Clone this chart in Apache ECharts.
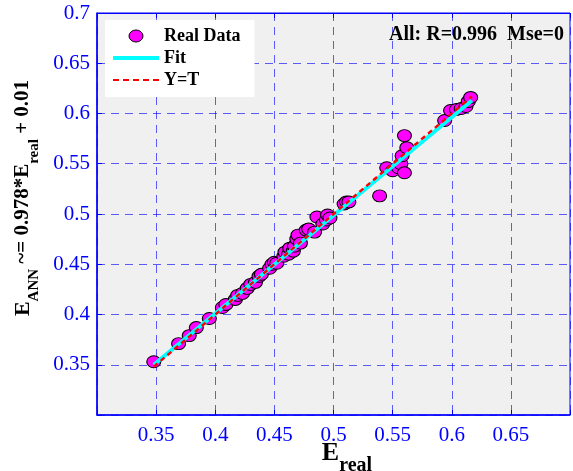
<!DOCTYPE html>
<html>
<head>
<meta charset="utf-8">
<script src="https://cdn.jsdelivr.net/npm/echarts@6/dist/echarts.min.js"></script>
<style>
html,body{margin:0;padding:0;background:#fff;}
#chart{width:573px;height:471px;}
</style>
</head>
<body>
<div id="chart"></div>
<script>
// Real data points [E_real, E_ANN]
const realData = [
  [0.348,0.353],[0.369,0.371],[0.378,0.379],[0.384,0.387],[0.395,0.396],
  [0.406,0.407],[0.409,0.410],[0.417,0.415],[0.419,0.419],[0.423,0.421],
  [0.427,0.426],[0.430,0.430],[0.434,0.432],[0.437,0.438],[0.439,0.440],
  [0.446,0.446],[0.448,0.450],[0.450,0.452],[0.452,0.451],[0.458,0.458],
  [0.459,0.462],[0.462,0.460],[0.463,0.466],[0.466,0.463],[0.467,0.468],
  [0.469,0.475],[0.470,0.479],[0.472,0.471],[0.477,0.484],[0.479,0.485],
  [0.484,0.482],[0.486,0.497],[0.491,0.490],[0.494,0.494],[0.495,0.499],
  [0.497,0.496],[0.509,0.510],[0.511,0.512],[0.513,0.512],[0.539,0.518],
  [0.545,0.546],[0.550,0.543],[0.555,0.546],[0.557,0.550],[0.560,0.541],
  [0.558,0.558],[0.562,0.566],[0.560,0.578],[0.594,0.593],[0.599,0.603],
  [0.604,0.604],[0.608,0.605],[0.612,0.607],[0.614,0.612],[0.616,0.616]
];
// Fit line endpoints (E_ANN ~= 0.978*E_real + 0.01)
const fitLine = [[0.348,0.350],[0.617,0.613]];
// Y = T line endpoints
const ytLine = [[0.348,0.348],[0.617,0.617]];
// Tick labels
const xTickLabels = ['0.35','0.4','0.45','0.5','0.55','0.6','0.65'];
const yTickLabels = ['0.35','0.4','0.45','0.5','0.55','0.6','0.65','0.7'];
const seriesNames = ['Real Data','Fit','Y=T'];
const statsText = 'All: R=0.996  Mse=0';

const serif = 'Liberation Serif, Times New Roman, serif';
const blue = '#0000ff';
const gridLine = {show:true, lineStyle:{color:'rgba(0,0,255,0.62)', width:1, type:[8,6]}};

const chart = echarts.init(document.getElementById('chart'), null, {renderer:'canvas'});
function fmt(list){ return function(v){ const s = String(+v.toFixed(2)); return list.indexOf(s) >= 0 ? s : ''; }; }

chart.setOption({
  animation:false,
  backgroundColor:'#ffffff',
  grid:{left:97, top:13, width:480, height:402, show:true, backgroundColor:'#f0f0f0', borderColor:blue, borderWidth:1},
  xAxis:[{
    type:'value', min:0.3, max:0.7, interval:0.05, position:'bottom',
    axisLine:{show:true, lineStyle:{color:blue, width:1.5}},
    axisTick:{show:true, inside:true, length:5, lineStyle:{color:blue}},
    axisLabel:{color:blue, fontFamily:serif, fontSize:21, margin:10, formatter:fmt(xTickLabels)},
    splitLine:gridLine
  },{
    type:'value', min:0.3, max:0.7, interval:0.05, position:'top',
    axisLine:{show:true, lineStyle:{color:blue, width:1}},
    axisTick:{show:true, inside:true, length:5, lineStyle:{color:blue}},
    axisLabel:{show:false}, splitLine:{show:false}
  }],
  yAxis:{
    type:'value', min:0.3, max:0.7, interval:0.05,
    axisLine:{show:true, lineStyle:{color:blue, width:1.5}},
    axisTick:{show:true, inside:true, length:5, lineStyle:{color:blue}},
    axisLabel:{color:blue, fontFamily:serif, fontSize:21, margin:7, formatter:fmt(yTickLabels)},
    splitLine:gridLine
  },
  legend:{
    orient:'vertical', left:105, top:20,
    data:[
      {name:seriesNames[0], icon:'path://M0,6a7,6 0 1,0 14,0a7,6 0 1,0 -14,0z',
       itemStyle:{color:'#ff00ff', borderColor:'#000', borderWidth:1}},
      {name:seriesNames[1], icon:'path://M0,0h46v4h-46z', itemStyle:{color:'#00ffff', borderWidth:0}},
      {name:seriesNames[2], icon:'path://M0,0h6v2h-6zM10,0h6v2h-6zM20,0h6v2h-6zM30,0h6v2h-6zM40,0h6v2h-6z',
       itemStyle:{color:'#ff0000', borderWidth:0}}
    ],
    backgroundColor:'#ffffff', padding:[7,14,8,8], itemGap:4,
    itemWidth:46, itemHeight:12,
    textStyle:{color:'#000', fontFamily:serif, fontWeight:'bold', fontSize:18}
  },
  series:[
    {name:seriesNames[0], type:'scatter', data:realData, symbol:'circle', symbolSize:[14,12],
     itemStyle:{color:'#ff00ff', borderColor:'#000', borderWidth:1, opacity:1}, z:2},
    {name:seriesNames[1], type:'line', data:fitLine, symbol:'none',
     lineStyle:{color:'#00ffff', width:4}, itemStyle:{color:'#00ffff'}, z:3},
    {name:seriesNames[2], type:'line', data:ytLine, symbol:'none',
     lineStyle:{color:'#ff0000', width:2.4, type:[5,4]}, itemStyle:{color:'#ff0000'}, z:4}
  ],
  graphic:[
    {type:'text', left:389, top:25, z:10,
     style:{text:statsText, fill:'#000', font:'bold 20px '+serif}},
    {type:'text', x:347, y:458, z:10,
     style:{text:'{e|E}{s|real}', align:'center', verticalAlign:'middle',
       rich:{e:{fontSize:26, fontWeight:'bold', fontFamily:serif, fill:'#000', lineHeight:36, verticalAlign:'top'},
             s:{fontSize:20, fontWeight:'bold', fontFamily:serif, fill:'#000', lineHeight:20, verticalAlign:'bottom'}}}},
    {type:'text', x:27, y:198, rotation:Math.PI/2, z:10,
     style:{text:'{e|E}{s|ANN}{t| ~= 0.978*E}{s|real}{t| + 0.01}', align:'center', verticalAlign:'middle',
       rich:{e:{fontSize:22, fontWeight:'bold', fontFamily:serif, fill:'#000', lineHeight:30, verticalAlign:'top'},
             t:{fontSize:21, fontWeight:'bold', fontFamily:serif, fill:'#000', lineHeight:30, verticalAlign:'top'},
             s:{fontSize:15, fontWeight:'bold', fontFamily:serif, fill:'#000', lineHeight:15, verticalAlign:'bottom'}}}}
  ]
});
</script>
</body>
</html>
